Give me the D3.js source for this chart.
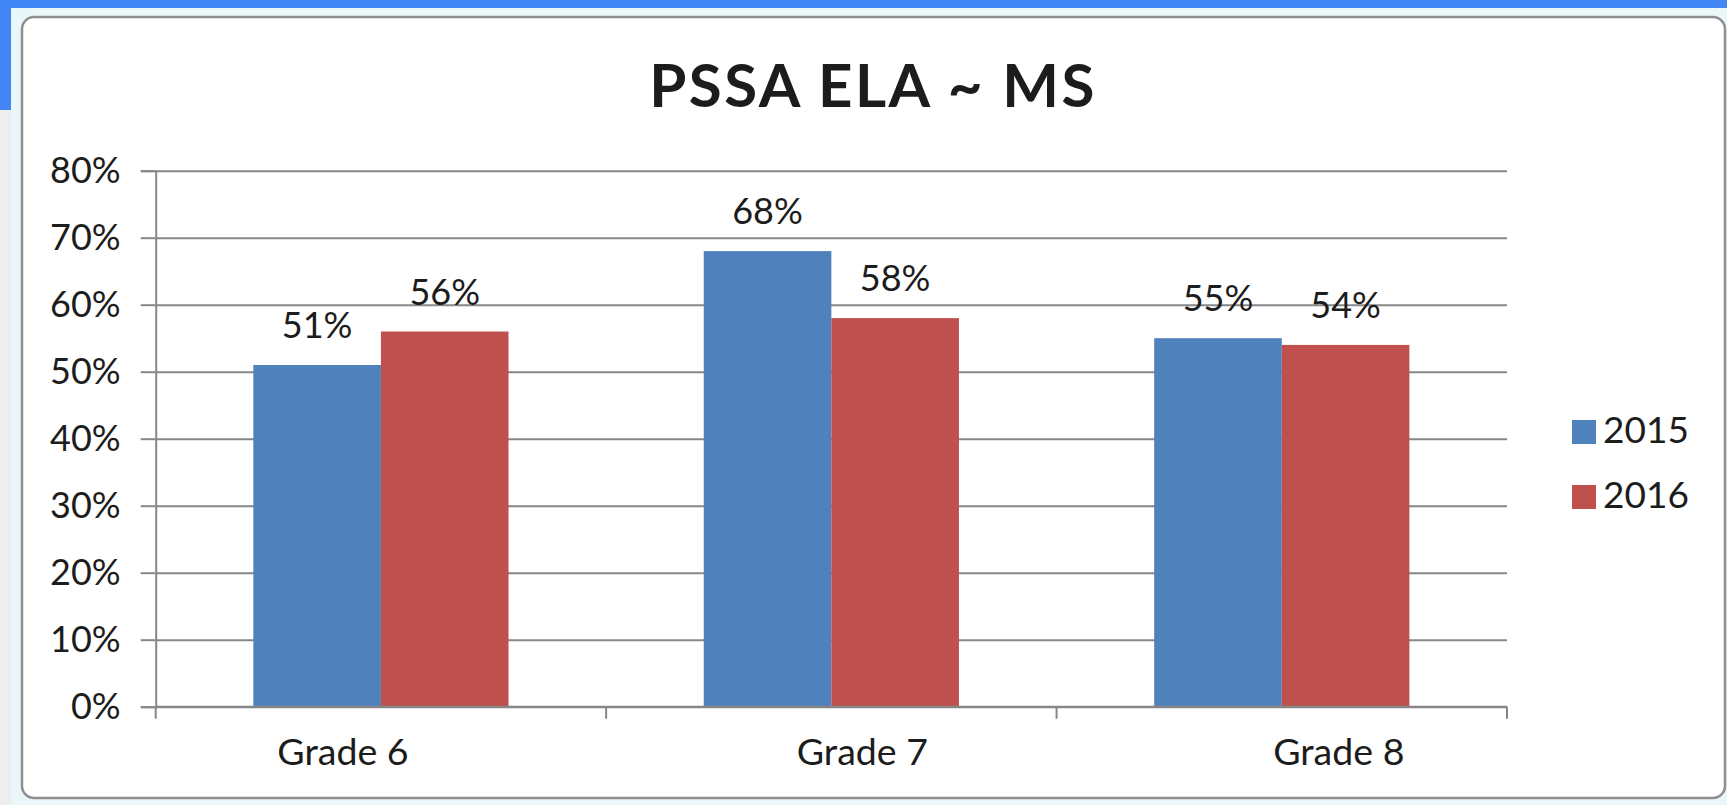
<!DOCTYPE html>
<html>
<head>
<meta charset="utf-8">
<script src="https://cdn.jsdelivr.net/npm/d3@7/dist/d3.min.js"></script>
<style>
  html, body { margin: 0; padding: 0; background: #ffffff; }
  svg { display: block; }
  text { font-family: Lato, "Open Sans", sans-serif; fill: #1c1c1c; }
</style>
</head>
<body>
<svg id="chart" width="1727" height="805"></svg>
<script>
// ---- data ----
const title = "PSSA ELA ~ MS";
const categories = ["Grade 6", "Grade 7", "Grade 8"];
const seriesNames = ["2015", "2016"];
const values2015 = [0.51, 0.68, 0.55];
const values2016 = [0.56, 0.58, 0.54];
const yTicks = [0, 0.1, 0.2, 0.3, 0.4, 0.5, 0.6, 0.7, 0.8];
const colors = ["#4f81bd", "#c0504d"];

const seriesValues = [values2015, values2016];

// ---- layout ----
const W = 1727, H = 805;
const plot = { left: 155.7, right: 1507, top: 170.7, bottom: 706.7 };
const catLabelShift = [-38, 31, 57];

const svg = d3.select("#chart");

// background frame (screenshot surroundings)
svg.append("rect").attr("x", 0).attr("y", 0).attr("width", W).attr("height", H).attr("fill", "#eaf7f9");
svg.append("rect").attr("x", 0).attr("y", 110).attr("width", 11).attr("height", H - 110).attr("fill", "#eeeeee");
svg.append("rect").attr("x", 0).attr("y", 0).attr("width", 11).attr("height", 110).attr("fill", "#4285f4");
svg.append("rect").attr("x", 0).attr("y", 0).attr("width", W).attr("height", 8).attr("fill", "#4285f4");

// chart panel
svg.append("rect")
  .attr("x", 22).attr("y", 17).attr("width", 1703).attr("height", 781)
  .attr("rx", 12).attr("ry", 12)
  .attr("fill", "#ffffff").attr("stroke", "#8f8f8f").attr("stroke-width", 2.5);

// ---- scales ----
const y = d3.scaleLinear().domain([0, 0.8]).range([plot.bottom, plot.top]);
const x0 = d3.scaleBand().domain(categories).range([plot.left, plot.right]).padding(0);
const x1 = d3.scaleBand().domain(seriesNames).range([0, x0.bandwidth()])
  .paddingInner(0).paddingOuter(0.765);

// ---- gridlines ----
const grid = svg.append("g").attr("transform", `translate(${plot.left},0)`)
  .call(d3.axisLeft(y).tickValues(yTicks).tickSize(-(plot.right - plot.left)).tickFormat(""));
grid.selectAll("line").attr("stroke", "#878787").attr("stroke-width", 2);
grid.select(".domain").remove();

// ---- bars ----
const groups = svg.append("g").selectAll("g")
  .data(categories)
  .join("g")
  .attr("transform", d => `translate(${x0(d)},0)`);

groups.selectAll("rect")
  .data((c, i) => seriesNames.map((s, j) => ({ s, j, v: seriesValues[j][i] })))
  .join("rect")
  .attr("x", d => x1(d.s))
  .attr("width", x1.bandwidth())
  .attr("y", d => y(d.v))
  .attr("height", d => y(0) - y(d.v))
  .attr("fill", d => colors[d.j]);

groups.selectAll("text.val")
  .data((c, i) => seriesNames.map((s, j) => ({ s, j, v: seriesValues[j][i] })))
  .join("text")
  .attr("class", "val")
  .attr("x", d => x1(d.s) + x1.bandwidth() / 2)
  .attr("y", d => y(d.v) - 27)
  .attr("text-anchor", "middle")
  .attr("font-size", 36)
  .text(d => d3.format(".0%")(d.v));

// ---- y axis ----
const yAxis = svg.append("g").attr("transform", `translate(${plot.left},0)`)
  .call(d3.axisLeft(y).tickValues(yTicks).tickSize(15).tickPadding(20).tickFormat(d3.format(".0%")));
yAxis.selectAll("line").attr("stroke", "#878787").attr("stroke-width", 2);
yAxis.select(".domain").attr("stroke", "#878787").attr("stroke-width", 2);
yAxis.selectAll("text").attr("font-size", 36).attr("font-family", "Lato, sans-serif").attr("fill", "#1c1c1c");

// ---- x axis ----
const xAxisG = svg.append("g");
xAxisG.append("line")
  .attr("x1", plot.left).attr("x2", plot.right)
  .attr("y1", y(0)).attr("y2", y(0))
  .attr("stroke", "#878787").attr("stroke-width", 2);
const edges = categories.map(c => x0(c)).concat([x0(categories[categories.length - 1]) + x0.bandwidth()]);
xAxisG.selectAll("line.tick")
  .data(edges)
  .join("line")
  .attr("class", "tick")
  .attr("x1", d => d).attr("x2", d => d)
  .attr("y1", y(0)).attr("y2", y(0) + 12)
  .attr("stroke", "#878787").attr("stroke-width", 2);
xAxisG.selectAll("text")
  .data(categories)
  .join("text")
  .attr("x", (d, i) => x0(d) + x0.bandwidth() / 2 + catLabelShift[i])
  .attr("y", 765)
  .attr("text-anchor", "middle")
  .attr("font-size", 37.5)
  .text(d => d);

// ---- title ----
svg.append("text")
  .attr("x", 873).attr("y", 106.5)
  .attr("text-anchor", "middle")
  .attr("font-size", 60)
  .attr("font-weight", 700)
  .attr("letter-spacing", 2.5)
  .attr("fill", "#000")
  .text(title);

// ---- legend ----
const legend = svg.append("g").attr("transform", "translate(1572,0)");
const ly = d3.scalePoint().domain(seriesNames).range([443, 508]);
legend.selectAll("rect")
  .data(seriesNames)
  .join("rect")
  .attr("x", 0).attr("y", d => ly(d) - 23)
  .attr("width", 24).attr("height", 24)
  .attr("fill", (d, i) => colors[i]);
legend.selectAll("text")
  .data(seriesNames)
  .join("text")
  .attr("x", 31).attr("y", d => ly(d))
  .attr("font-size", 37)
  .text(d => d);
</script>
</body>
</html>
